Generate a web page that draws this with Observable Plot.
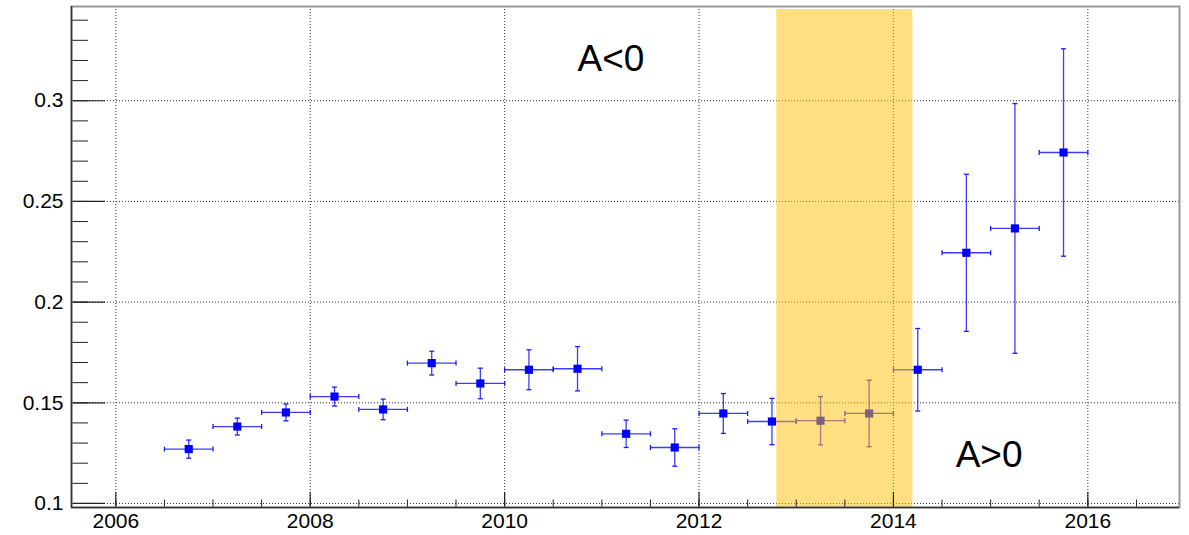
<!DOCTYPE html>
<html>
<head>
<meta charset="utf-8">
<script src="https://cdn.jsdelivr.net/npm/d3@7"></script>
<script src="https://cdn.jsdelivr.net/npm/@observablehq/plot@0.6"></script>
<style>
  html, body { margin: 0; padding: 0; background: #fff; }
  #chart { width: 1189px; height: 535px; }
</style>
</head>
<body>
<div id="chart"></div>
<script>
// ---- data ----
const xCenters = [2006.75, 2007.25, 2007.75, 2008.25, 2008.75, 2009.25, 2009.75, 2010.25, 2010.75,
                  2011.25, 2011.75, 2012.25, 2012.75, 2013.25, 2013.75, 2014.25, 2014.75, 2015.25, 2015.75];
const values   = [0.1270, 0.1382, 0.1452, 0.1531, 0.1467, 0.1697, 0.1596, 0.1664, 0.1669,
                  0.1346, 0.1278, 0.1447, 0.1407, 0.1411, 0.1447, 0.1664, 0.2245, 0.2366, 0.2743];
const yErrors  = [0.0045, 0.0042, 0.0042, 0.0047, 0.0051, 0.0059, 0.0076, 0.0099, 0.0110,
                  0.0068, 0.0093, 0.0099, 0.0115, 0.0120, 0.0165, 0.0205, 0.0390, 0.0620, 0.0515];
const xErrors  = [0.25, 0.25, 0.25, 0.25, 0.25, 0.25, 0.25, 0.25, 0.25,
                  0.25, 0.25, 0.25, 0.25, 0.25, 0.25, 0.25, 0.25, 0.25, 0.25];

const xMajorTicks = [2006, 2008, 2010, 2012, 2014, 2016];
const xMinorTicks = [2006, 2006.5, 2007, 2007.5, 2008, 2008.5, 2009, 2009.5, 2010, 2010.5, 2011, 2011.5,
                     2012, 2012.5, 2013, 2013.5, 2014, 2014.5, 2015, 2015.5, 2016, 2016.5];
const yMajorTicks = [0.1, 0.15, 0.2, 0.25, 0.3];
const yMinorTicks = [0.10, 0.11, 0.12, 0.13, 0.14, 0.15, 0.16, 0.17, 0.18, 0.19, 0.20, 0.21, 0.22,
                     0.23, 0.24, 0.25, 0.26, 0.27, 0.28, 0.29, 0.30, 0.31, 0.32, 0.33, 0.34];

const xDomain = [2005.544, 2016.943];
const yDomain = [0.098, 0.3468];

const band = [{x1: 2012.8, x2: 2014.2, y1: 0.098, y2: 0.3453}];
const annotations = [
  {x: 2010.75, y: 0.315, label: "A<0"},
  {x: 2014.64, y: 0.118, label: "A>0"}
];

// ---- build table ----
const points = xCenters.map((x, i) => ({x, y: values[i], ex: xErrors[i], ey: yErrors[i]}));

const W = 1189, H = 535;
const mL = 71, mR = 10, mT = 6, mB = 28;
const frameW = W - mL - mR, frameH = H - mT - mB;

const capV = { draw(ctx, size) { const r = Math.sqrt(size / Math.PI); ctx.moveTo(0, -r); ctx.lineTo(0, r); } };
const capH = { draw(ctx, size) { const r = Math.sqrt(size / Math.PI); ctx.moveTo(-r, 0); ctx.lineTo(r, 0); } };

const font = "'Liberation Sans', Arial, Helvetica, sans-serif";
const barColor = "#1a1aff";

const chart = Plot.plot({
  width: W, height: H,
  marginLeft: mL, marginRight: mR, marginTop: mT, marginBottom: mB,
  style: {fontFamily: font, background: "#fff", color: "#000"},
  x: {domain: xDomain, label: null},
  y: {domain: yDomain, label: null},
  marks: [
    // grid
    Plot.ruleX(xMajorTicks, {x: d => d, stroke: "#333", strokeWidth: 1, strokeDasharray: "1,2"}),
    Plot.ruleY(yMajorTicks, {y: d => d, stroke: "#333", strokeWidth: 1, strokeDasharray: "1,2"}),
    // error bars
    Plot.link(points, {x1: d => d.x - d.ex, x2: d => d.x + d.ex, y1: "y", y2: "y",
                       stroke: barColor, strokeWidth: 1.3, strokeOpacity: 0.85}),
    Plot.link(points, {x1: "x", x2: "x", y1: d => d.y - d.ey, y2: d => d.y + d.ey,
                       stroke: barColor, strokeWidth: 1.3, strokeOpacity: 0.85}),
    Plot.dot(points, {x: d => d.x - d.ex, y: "y", symbol: capV, r: 2.5, stroke: barColor, strokeWidth: 1.3, fill: "none"}),
    Plot.dot(points, {x: d => d.x + d.ex, y: "y", symbol: capV, r: 2.5, stroke: barColor, strokeWidth: 1.3, fill: "none"}),
    Plot.dot(points, {x: "x", y: d => d.y - d.ey, symbol: capH, r: 2.5, stroke: barColor, strokeWidth: 1.3, fill: "none"}),
    Plot.dot(points, {x: "x", y: d => d.y + d.ey, symbol: capH, r: 2.5, stroke: barColor, strokeWidth: 1.3, fill: "none"}),
    // markers
    Plot.dot(points, {x: "x", y: "y", symbol: "square", r: 4.6, fill: "#0000ff", stroke: "none"}),
    // highlighted band (semi-transparent, drawn over points)
    Plot.rect(band, {x1: "x1", x2: "x2", y1: "y1", y2: "y2", fill: "#ffbf00", fillOpacity: 0.5}),
    // ticks
    Plot.tickX(xMinorTicks, {x: d => d, insetTop: frameH - 7.5, stroke: "#222", strokeWidth: 1}),
    Plot.tickX(xMajorTicks, {x: d => d, insetTop: frameH - 15, stroke: "#222", strokeWidth: 1.2}),
    Plot.tickY(yMinorTicks, {y: d => d, insetRight: frameW - 17, stroke: "#222", strokeWidth: 1}),
    Plot.tickY(yMajorTicks, {y: d => d, insetRight: frameW - 34, stroke: "#222", strokeWidth: 1.2}),
    // frame
    Plot.frame({stroke: "#999", strokeWidth: 2}),
    Plot.ruleX([xDomain[0]], {stroke: "#333", strokeWidth: 1.5}),
    Plot.ruleY([yDomain[0]], {stroke: "#333", strokeWidth: 1.5}),
    // axis labels
    Plot.axisX({ticks: xMajorTicks, tickSize: 0, tickPadding: 6, fontSize: 21, tickFormat: d => String(d), label: null}),
    Plot.axisY({ticks: yMajorTicks, tickSize: 0, tickPadding: 8, fontSize: 21, tickFormat: d => String(d), label: null}),
    // annotations
    Plot.text(annotations, {x: "x", y: "y", text: "label", textAnchor: "start", lineAnchor: "bottom",
                            fontSize: 37, fill: "#000", fontFamily: font})
  ]
});

document.getElementById("chart").appendChild(chart);
</script>
</body>
</html>
